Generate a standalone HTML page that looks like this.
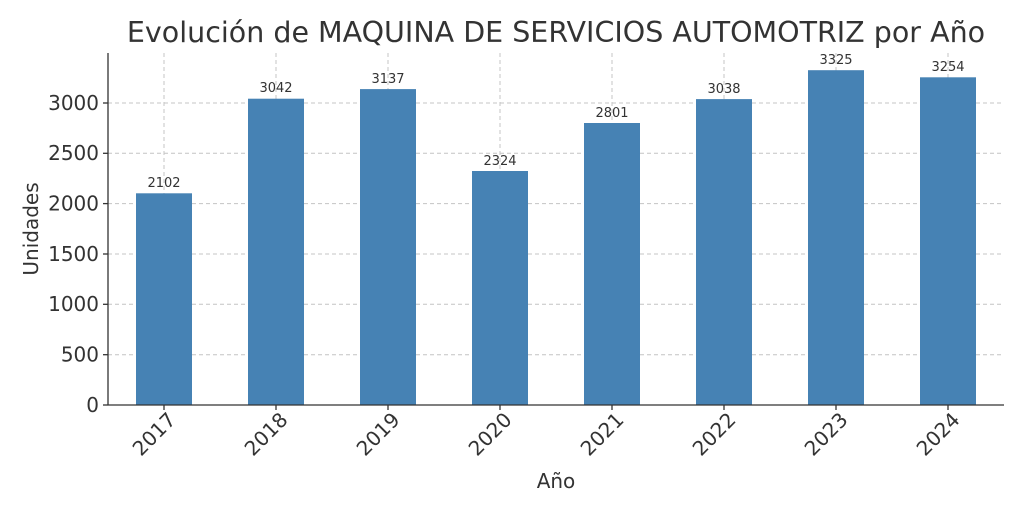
<!DOCTYPE html>
<html><head><meta charset="utf-8"><style>body{margin:0;background:#fff}svg{display:block}</style></head>
<body>
<svg width="1024" height="512" xmlns="http://www.w3.org/2000/svg" font-family="DejaVu Sans, Liberation Sans, sans-serif">
<rect width="1024" height="512" fill="#fff"/>
<text x="556" y="42" font-size="28.5" text-anchor="middle" fill="#333">Evolución de MAQUINA DE SERVICIOS AUTOMOTRIZ por Año</text>
<g stroke="#c4c4c4" stroke-dasharray="4,3" stroke-width="1">
<line x1="108" x2="1004" y1="354.7" y2="354.7"/><line x1="108" x2="1004" y1="304.3" y2="304.3"/>
<line x1="108" x2="1004" y1="254" y2="254"/><line x1="108" x2="1004" y1="203.6" y2="203.6"/>
<line x1="108" x2="1004" y1="153.3" y2="153.3"/><line x1="108" x2="1004" y1="103" y2="103"/>
<line x1="164" x2="164" y1="53" y2="405"/><line x1="276" x2="276" y1="53" y2="405"/>
<line x1="388" x2="388" y1="53" y2="405"/><line x1="500" x2="500" y1="53" y2="405"/>
<line x1="612" x2="612" y1="53" y2="405"/><line x1="724" x2="724" y1="53" y2="405"/>
<line x1="836" x2="836" y1="53" y2="405"/><line x1="948" x2="948" y1="53" y2="405"/>
</g>
<g fill="#4682b4">
<rect x="136" y="193.3" width="56" height="211.7"/>
<rect x="248" y="98.7" width="56" height="306.3"/>
<rect x="360" y="89.1" width="56" height="315.9"/>
<rect x="472" y="171" width="56" height="234"/>
<rect x="584" y="123" width="56" height="282"/>
<rect x="696" y="99.1" width="56" height="305.9"/>
<rect x="808" y="70.2" width="56" height="334.8"/>
<rect x="920" y="77.3" width="56" height="327.7"/>
</g>
<g font-size="13" text-anchor="middle" fill="#333">
<text x="164" y="187">2102</text><text x="276" y="92">3042</text><text x="388" y="83">3137</text>
<text x="500" y="165">2324</text><text x="612" y="117">2801</text><text x="724" y="93">3038</text>
<text x="836" y="64">3325</text><text x="948" y="71">3254</text>
</g>
<g stroke="#333" stroke-width="1.3">
<line x1="108" x2="108" y1="53" y2="405"/><line x1="108" x2="1004" y1="405" y2="405"/>
<line x1="103" x2="108" y1="405" y2="405"/><line x1="103" x2="108" y1="354.7" y2="354.7"/>
<line x1="103" x2="108" y1="304.3" y2="304.3"/><line x1="103" x2="108" y1="254" y2="254"/>
<line x1="103" x2="108" y1="203.6" y2="203.6"/><line x1="103" x2="108" y1="153.3" y2="153.3"/>
<line x1="103" x2="108" y1="103" y2="103"/>
<line x1="164" x2="164" y1="405" y2="410"/><line x1="276" x2="276" y1="405" y2="410"/>
<line x1="388" x2="388" y1="405" y2="410"/><line x1="500" x2="500" y1="405" y2="410"/>
<line x1="612" x2="612" y1="405" y2="410"/><line x1="724" x2="724" y1="405" y2="410"/>
<line x1="836" x2="836" y1="405" y2="410"/><line x1="948" x2="948" y1="405" y2="410"/>
</g>
<g font-size="20" text-anchor="end" fill="#333">
<text x="99" y="412">0</text><text x="99" y="361.5">500</text><text x="99" y="311">1000</text>
<text x="99" y="261">1500</text><text x="99" y="210.5">2000</text><text x="99" y="160">2500</text><text x="99" y="110">3000</text>
</g>
<g font-size="20" text-anchor="end" fill="#333">
<text transform="translate(177,421) rotate(-45)">2017</text>
<text transform="translate(289,421) rotate(-45)">2018</text>
<text transform="translate(401,421) rotate(-45)">2019</text>
<text transform="translate(513,421) rotate(-45)">2020</text>
<text transform="translate(625,421) rotate(-45)">2021</text>
<text transform="translate(737,421) rotate(-45)">2022</text>
<text transform="translate(849,421) rotate(-45)">2023</text>
<text transform="translate(961,421) rotate(-45)">2024</text>
</g>
<text x="556" y="488" font-size="20" text-anchor="middle" fill="#333">Año</text>
<text transform="translate(38,229) rotate(-90)" font-size="20" text-anchor="middle" fill="#333">Unidades</text>
</svg>
</body></html>
